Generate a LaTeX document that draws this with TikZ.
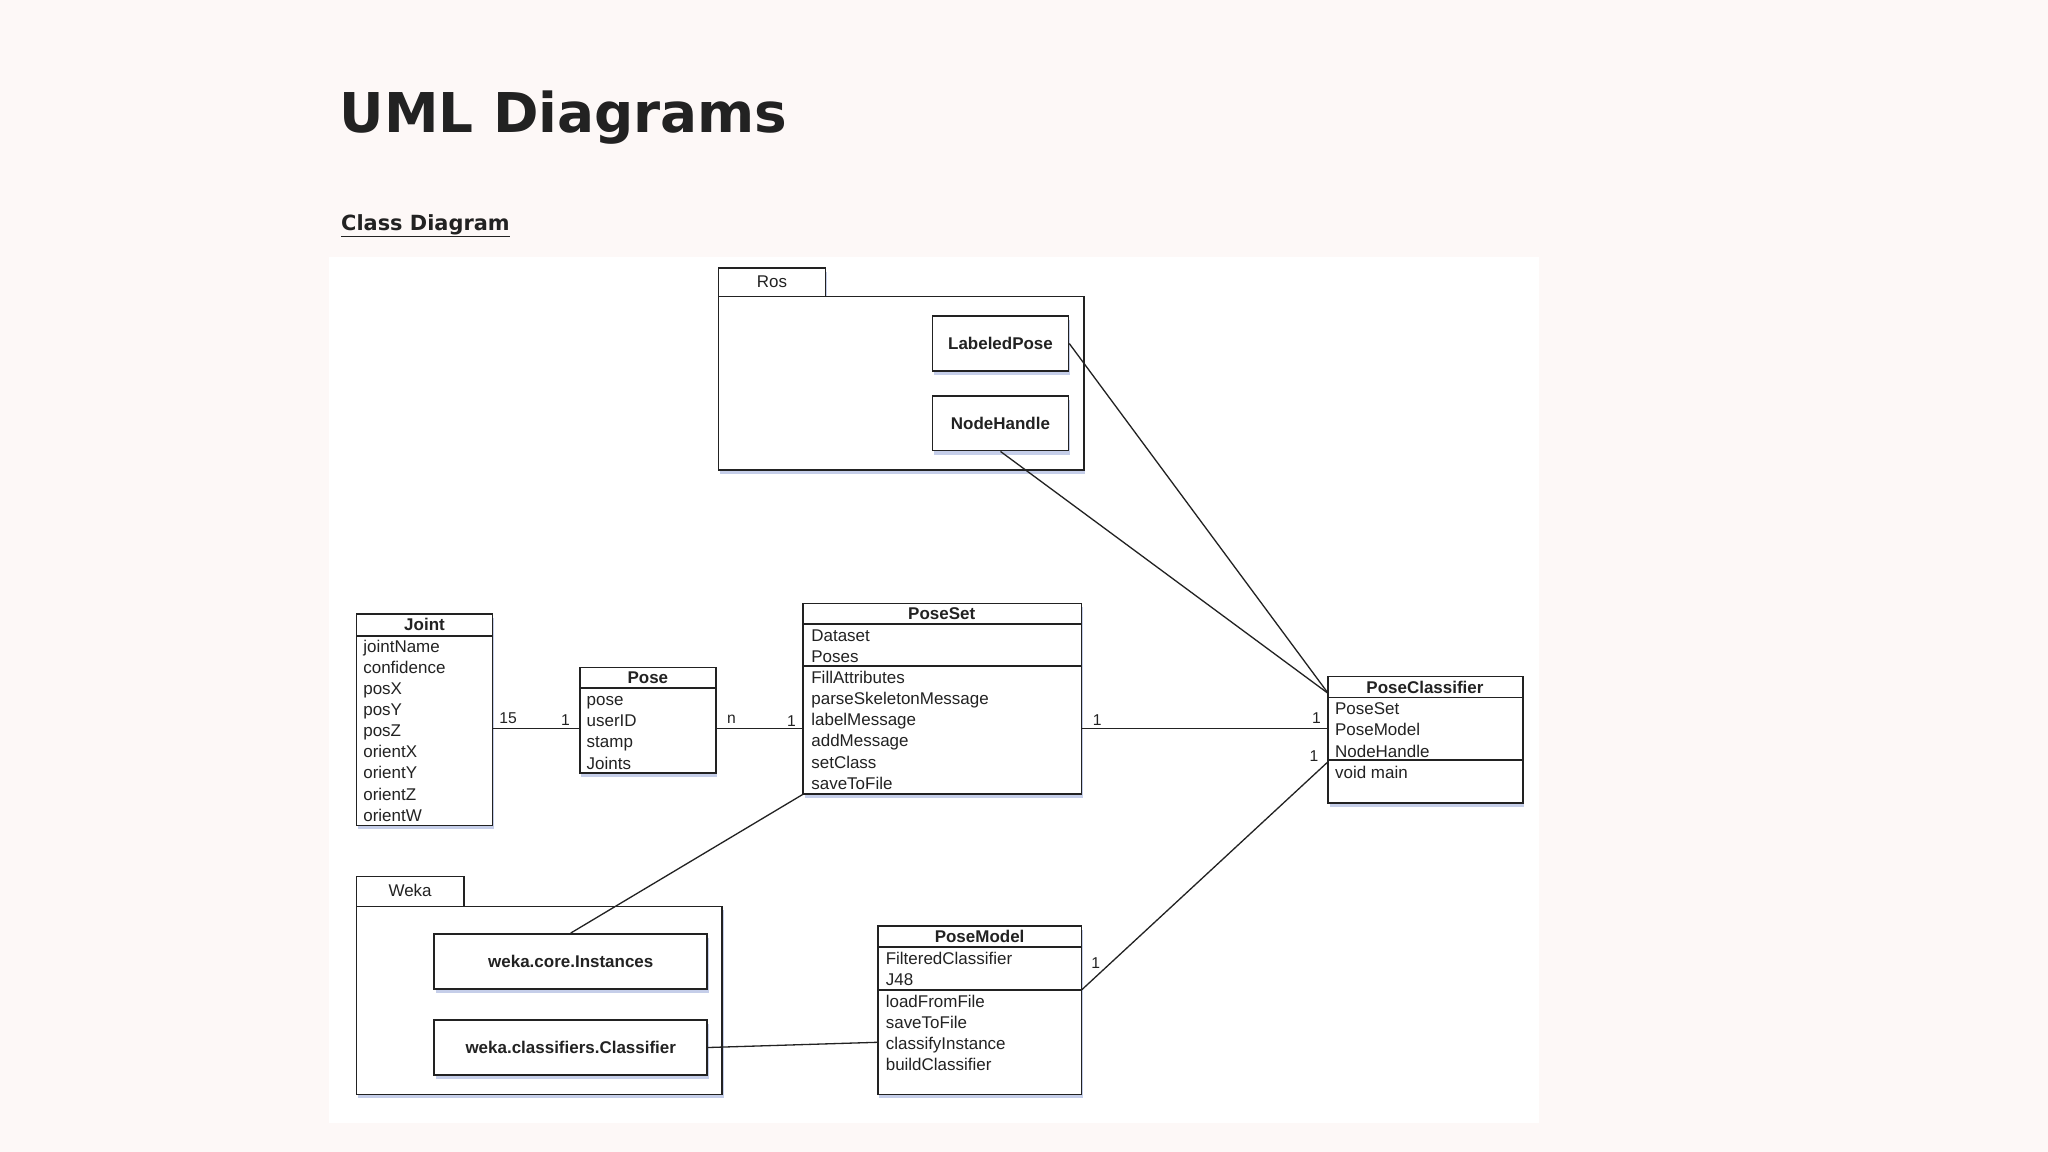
\documentclass[tikz,border=0pt]{standalone}
\usepackage{fontspec}
\setmainfont{Liberation Sans}
\newfontfamily\headfont{DejaVu Sans}
\usetikzlibrary{shadows}
\definecolor{pagebg}{HTML}{FDF8F7}
\definecolor{ink}{HTML}{222222}
\definecolor{glow}{HTML}{6F86C8}
\begin{document}
\begin{tikzpicture}[x=1pt,y=-1pt,
  box/.style={draw=ink,line width=1.3pt,fill=white,drop shadow={shadow xshift=1pt,shadow yshift=-3pt,fill=glow,opacity=0.4}},
  plain/.style={draw=ink,line width=1.3pt},
  ttl/.style={font=\fontsize{13}{14}\selectfont\bfseries,text=ink},
  txt/.style={font=\fontsize{13}{14}\selectfont,text=ink,anchor=base west,inner sep=0pt},
  mult/.style={font=\fontsize{12}{13}\selectfont,text=ink,inner sep=0pt},
  conn/.style={draw=ink,line width=1pt}]
\useasboundingbox[fill=pagebg] (0,0) rectangle (1568,882);
\fill[white] (252,197) rectangle (1178,860);
\node[anchor=west,font=\headfont\fontsize{42}{46}\selectfont\bfseries,text=ink,inner sep=0pt] (title) at (260,90) {UML Diagrams};
\node[anchor=west,font=\headfont\fontsize{16}{18}\selectfont\bfseries,text=ink,inner sep=0pt] (sub) at (261,173) {\underline{Class Diagram}};

% Ros package
\path[box] (550,205) rectangle (632,227);
\path[box] (550,227) rectangle (830,360);
\node[font=\fontsize{13}{14}\selectfont,text=ink] (ros) at (591,216) {Ros};
\node[box,ttl,minimum width=104pt,minimum height=42pt] (lp) at (766,263) {LabeledPose};
\node[box,ttl,minimum width=104pt,minimum height=42pt] (nh) at (766,324) {NodeHandle};

% Weka package
\path[box] (273,671) rectangle (355,694);
\path[box] (273,694) rectangle (553,838);
\node[font=\fontsize{13}{14}\selectfont,text=ink] (weka) at (314,682) {Weka};
\node[box,ttl,minimum width=209pt,minimum height=42pt] (inst) at (437,736) {weka.core.Instances};
\node[box,ttl,minimum width=209pt,minimum height=42pt] (clsf) at (437,802) {weka.classifiers.Classifier};

% Joint
\path[box] (273,470) rectangle (377,632);
\draw[plain] (273,487) -- (377,487);
\node[ttl] (joint) at (325,478) {Joint};
\foreach \t [count=\i] in {jointName,confidence,posX,posY,posZ,orientX,orientY,orientZ,orientW}
  \node[txt] at (278,483+16.2*\i) {\t};
\coordinate (jr) at (377,558);

% Pose
\path[box] (444,511) rectangle (548,592);
\draw[plain] (444,527) -- (548,527);
\node[ttl] (pose) at (496,519) {Pose};
\foreach \t [count=\i] in {pose,userID,stamp,Joints}
  \node[txt] at (449,524+16.2*\i) {\t};
\coordinate (pl) at (444,558);
\coordinate (pr) at (548,558);

% PoseSet
\path[box] (615,462) rectangle (828,608);
\draw[plain] (615,478) -- (828,478);
\draw[plain] (615,510) -- (828,510);
\node[ttl] (poseset) at (721,470) {PoseSet};
\foreach \t [count=\i] in {Dataset,Poses}
  \node[txt] at (621,475+16.2*\i) {\t};
\foreach \t [count=\i] in {FillAttributes,parseSkeletonMessage,labelMessage,addMessage,setClass,saveToFile}
  \node[txt] at (621,507+16.2*\i) {\t};
\coordinate (sl) at (615,558);
\coordinate (sr) at (828,558);
\coordinate (sbl) at (615,608);

% PoseClassifier
\path[box] (1017,518) rectangle (1166,615);
\draw[plain] (1017,534) -- (1166,534);
\draw[plain] (1017,582) -- (1166,582);
\node[ttl] (pc) at (1091,526) {PoseClassifier};
\foreach \t [count=\i] in {PoseSet,PoseModel,NodeHandle}
  \node[txt] at (1022,531+16.2*\i) {\t};
\node[txt] at (1022,596) {void main};
\coordinate (pctl) at (1017,531);
\coordinate (pcl) at (1017,558);
\coordinate (pcm) at (1017,583);

% PoseModel
\path[box] (672,709) rectangle (828,838);
\draw[plain] (672,725) -- (828,725);
\draw[plain] (672,758) -- (828,758);
\node[ttl] (pm) at (750,717) {PoseModel};
\foreach \t [count=\i] in {FilteredClassifier,J48}
  \node[txt] at (678,722+16.2*\i) {\t};
\foreach \t [count=\i] in {loadFromFile,saveToFile,classifyInstance,buildClassifier}
  \node[txt] at (678,755+16.2*\i) {\t};
\coordinate (pmr) at (828,758);
\coordinate (pml) at (672,798);

% connectors
\draw[conn] (lp.east) -- (pctl);
\draw[conn] (nh.south) -- (pctl);
\draw[conn] (jr) -- (pl);
\draw[conn] (pr) -- (sl);
\draw[conn] (sr) -- (pcl);
\draw[conn] (pmr) -- (pcm);
\draw[conn] (sbl) -- (inst.north);
\draw[conn] (clsf.east) -- (pml);

% multiplicities
\node[mult] at (389,550) {15};
\node[mult] at (433,551) {1};
\node[mult] at (560,551) {n};
\node[mult] at (606,552) {1};
\node[mult] at (840,551) {1};
\node[mult] at (1008,550) {1};
\node[mult] at (1006,579) {1};
\node[mult] at (839,737) {1};
\end{tikzpicture}
\end{document}
